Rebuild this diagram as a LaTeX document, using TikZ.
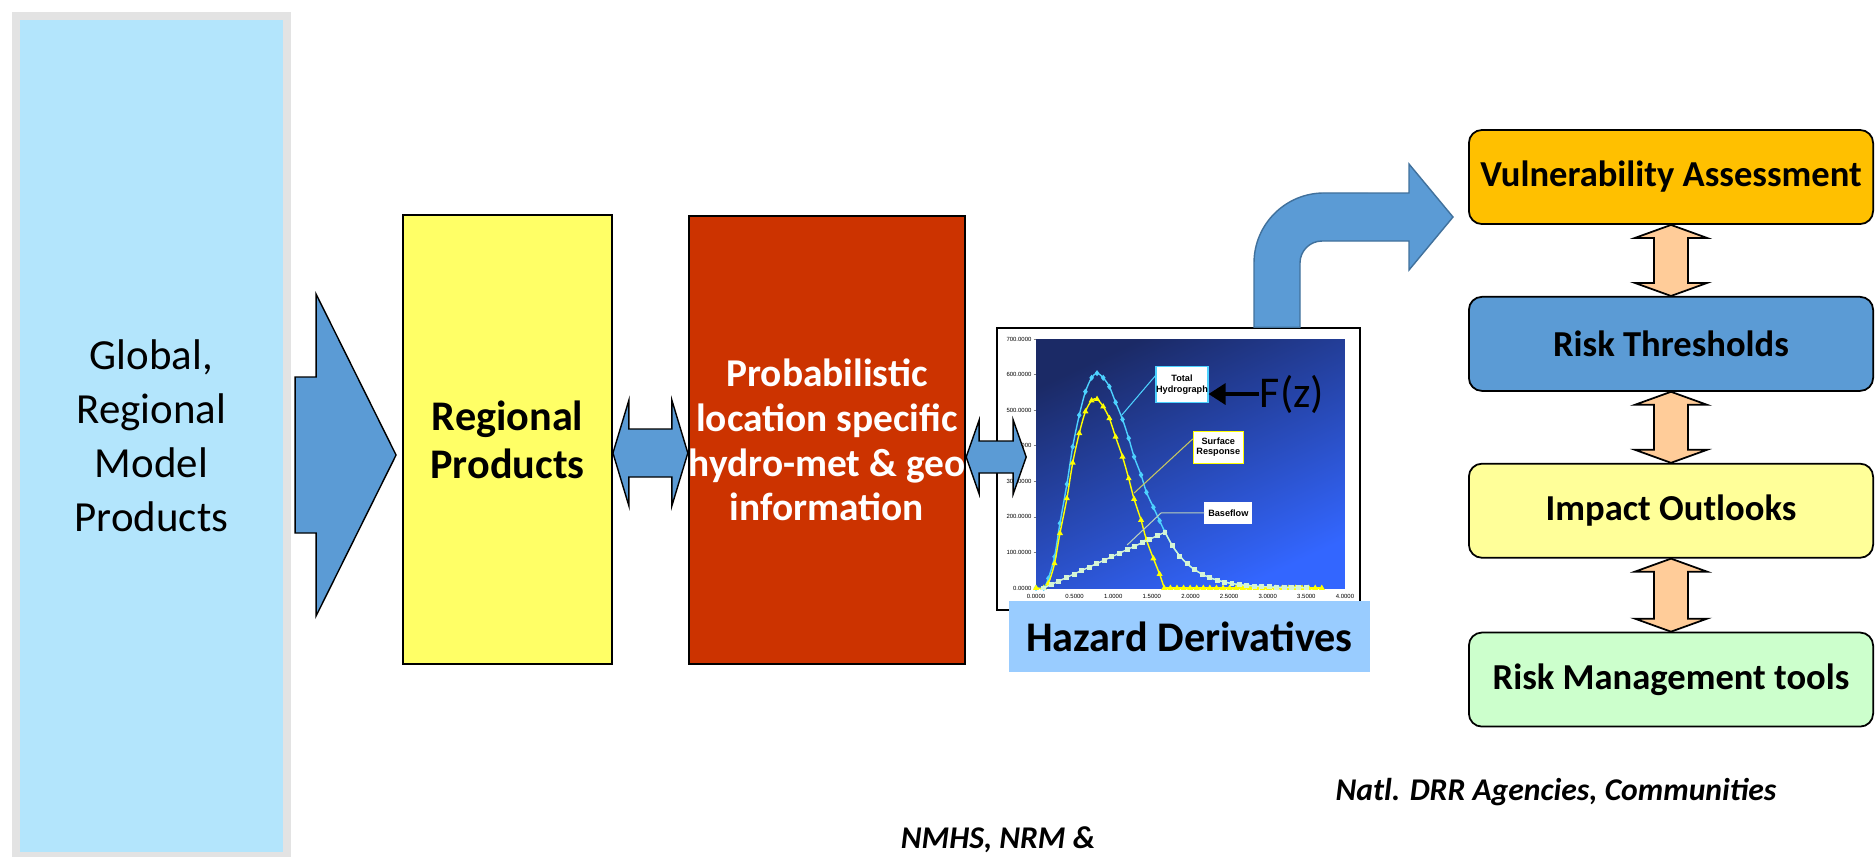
\documentclass[tikz,border=0pt]{standalone}
\usepackage{fontspec}
\setmainfont{Carlito}
\newfontfamily\chartfont{Liberation Sans}
\usetikzlibrary{positioning,calc,arrows.meta,plotmarks}

\definecolor{globblue}{HTML}{B3E5FC}
\definecolor{globgray}{HTML}{E3E3E3}
\definecolor{flowblue}{HTML}{5B9BD5}
\definecolor{flowedge}{HTML}{41719C}
\definecolor{regyellow}{HTML}{FFFF66}
\definecolor{probred}{HTML}{CC3300}
\definecolor{hazblue}{HTML}{99CCFF}
\definecolor{vulnorange}{HTML}{FFC000}
\definecolor{impactyellow}{HTML}{FFFF99}
\definecolor{mgmtgreen}{HTML}{CCFFCC}
\definecolor{pairpeach}{HTML}{FFCC99}
\definecolor{plottop}{HTML}{1B2A66}
\definecolor{plotbot}{HTML}{3366FF}
\definecolor{totalcyan}{HTML}{4DD2FF}
\definecolor{surfyellow}{HTML}{FFFF00}
\definecolor{surfleader}{HTML}{C8C860}
\definecolor{basegreen}{HTML}{D5F5D5}

\begin{document}
\begin{tikzpicture}[x=0.01cm,y=-0.01cm]
    \tikzset{
      bigbox/.style={draw,line width=0.5pt,inner sep=0pt,align=center},
      riskbox/.style={draw,line width=0.5pt,rounded corners=1.3mm,inner sep=0pt,
        minimum width=40.4mm,minimum height=9.4mm,font=\bfseries\fontsize{10.4}{12}\selectfont},
      flowarrow/.style={fill=flowblue,draw=black,line width=0.4pt},
      pairarrow/.style={fill=pairpeach,draw=black,line width=0.5pt},
      notetext/.style={font=\bfseries\itshape\fontsize{9}{11}\selectfont},
      ylab/.style={anchor=east,inner sep=0pt,font=\chartfont\fontsize{1.7}{2}\selectfont},
      xlab/.style={inner sep=0pt,font=\chartfont\fontsize{1.7}{2}\selectfont},
      lblbox/.style={fill=white,line width=0.3pt,inner sep=0pt,align=center,
        font=\chartfont\bfseries\fontsize{2.6}{3}\selectfont},
      curve/.style={line width=0.4pt},
    }
    \tikzset{
      pics/bigarrow/.style args={#1,#2,#3,#4,#5}{code={
        \filldraw[flowarrow] ($(#1)+(0,-#5)$) -- ($(#2)+(-#3,-#5)$) -- ++(0,#5-#4)
          -- (#2) -- ++(-#3,#4) -- ++(0,#5-#4) -- ($(#1)+(0,#5)$) -- cycle;
      },
      }
    }
    \tikzset{
      pics/twoway/.style args={#1,#2,#3,#4,#5}{code={
        \filldraw[flowarrow] (#1) -- ++(#3,-#4) -- ++(0,#4-#5) -- ($(#2)+(-#3,-#5)$)
          -- ++(0,#5-#4) -- (#2) -- ++(-#3,#4) -- ++(0,#5-#4)
          -- ($(#1)+(#3,#5)$) -- ++(0,#4-#5) -- cycle;
      },
      }
    }
    \tikzset{
      pics/updown/.style args={#1,#2,#3,#4,#5}{code={
        \filldraw[pairarrow] (#1) -- ++(#4,#3) -- ++(#5-#4,0) -- ($(#2)+(#5,-#3)$)
          -- ++(#4-#5,0) -- (#2) -- ++(-#4,-#3) -- ++(#4-#5,0)
          -- ($(#1)+(-#5,#3)$) -- ++(#5-#4,0) -- cycle;
      },
      }
    }
    \useasboundingbox (0,0) rectangle (1875,856);

    % model products column
    \node[bigbox,draw=globgray,line width=0.8mm,fill=globblue,minimum width=27.1mm,
      minimum height=84mm,font=\fontsize{12.2}{15.4}\selectfont] (glob) at (151.5,436)
      {Global,\\Regional\\Model\\Products};

    \node[bigbox,fill=regyellow,minimum width=20.9mm,minimum height=44.9mm,
      font=\bfseries\fontsize{12}{13.7}\selectfont] (reg) at (507.5,439.5) {Regional\\Products};
    \node[bigbox,fill=probred,text=white,minimum width=27.2mm,minimum height=44.8mm,
      font=\bfseries\fontsize{11.2}{12.7}\selectfont] (prob) at (827,440)
      {Probabilistic\\location specific\\hydro-met \& geo\\information};

    \coordinate (gr1) at ($(glob.east |- 0,455)+(4,0)$);
    \coordinate (gr2) at ($(reg.west |- 0,455)+(-6,0)$);
    \pic at (0,0) {bigarrow={gr1,gr2,80,161,78}};

    \coordinate (rp1) at (reg.east |- 0,453);
    \coordinate (rp2) at (prob.west |- 0,453);
    \pic at (0,0) {twoway={rp1,rp2,16,53,24}};

    % hydrograph
    \node[draw,line width=0.4pt,fill=white,minimum width=36.3mm,minimum height=28.2mm,
      inner sep=0pt] (chart) at (1178.5,469) {};
    \begin{scope}[shift={(1036,588)},x=0.772cm,y=0.003557cm]
      \shade[top color=plottop,bottom color=plotbot,shading angle=25] (0,0) rectangle (4,700);
      \foreach \v in {0,100,...,700} {
        \draw[line width=0.2pt,gray] (-0.03,\v) -- (0,\v);
        \node[ylab] at (-0.05,\v) {\v.0000};
      }
      \foreach \t/\lab in {0/0.0000,0.5/0.5000,1/1.0000,1.5/1.5000,2/2.0000,
        2.5/2.5000,3/3.0000,3.5/3.5000,4/4.0000}
        \node[xlab] at (\t,-25) {\lab};

      \draw[curve,totalcyan] plot[smooth,mark=diamond*,mark size=0.55pt] coordinates {
        (0,0) (0.1,0) (0.16,27) (0.24,88) (0.31,182) (0.40,292) (0.475,397) (0.56,486)
        (0.64,552) (0.72,591) (0.79,604) (0.87,591) (0.95,566) (1.03,522) (1.12,474)
        (1.20,421) (1.27,369) (1.36,318) (1.43,269) (1.52,227) (1.60,189) (1.67,157)};
      \draw[curve,totalcyan] plot[smooth,domain=1.67:3.7,samples=30] (\x,{157*exp(-2.9*(\x-1.67))});

      \draw[curve,surfyellow] plot[smooth,mark=triangle*,mark size=0.6pt] coordinates {
        (0,0) (0.1,0) (0.16,13) (0.24,69) (0.31,154) (0.40,252) (0.475,352) (0.56,435)
        (0.64,496) (0.72,527) (0.79,531) (0.87,510) (0.95,477) (1.03,425) (1.12,369)
        (1.20,308) (1.27,250) (1.36,191) (1.43,135) (1.52,83) (1.60,39) (1.66,0)};
      \draw[curve,surfyellow] (1.66,0) -- (3.7,0);
      \path[surfyellow] plot[only marks,mark=triangle*,mark size=0.6pt,domain=1.74:3.7,samples=24] (\x,0);

      \draw[curve,basegreen] plot[mark=square*,mark size=0.5pt,domain=0.1:1.67,samples=17] (\x,{100*(\x-0.1)});
      \draw[curve,basegreen] plot[smooth,mark=square*,mark size=0.5pt,domain=1.67:3.5,samples=20] (\x,{157*exp(-2.9*(\x-1.67))});

      \node[lblbox,draw=totalcyan,minimum width=5.2mm,minimum height=3.6mm] (tot) at (1.89,571) {Total\\Hydrograph};
      \node[lblbox,draw=surfyellow,minimum width=5.0mm,minimum height=3.2mm] (surf) at (2.36,396) {Surface\\Response};
      \node[lblbox,draw=white,minimum width=4.7mm,minimum height=2.0mm] (base) at (2.49,211) {Baseflow};

      \coordinate (totpt) at (1.11,486);
      \coordinate (surfpt) at (1.27,267);
      \coordinate (basept) at (1.18,121);
      \draw[totalcyan,line width=0.3pt] ($(tot.north west)!0.25!(tot.south west)$) -- (totpt);
      \draw[surfleader,line width=0.3pt] ($(surf.north west)!0.25!(surf.south west)$) -- (surfpt);
      \draw[basegreen!70!gray,line width=0.3pt] (base.west) -- ++(-0.56,0) -- (basept);
    \end{scope}

    \node[inner sep=0pt,font=\fontsize{12.5}{15}\selectfont] (fz) at (1292,394) {F(z)};
    \draw[line width=0.9pt,-{Triangle[length=1.7mm,width=2.1mm]}] (fz.west) -- (tot.east |- fz.west);

    \node[fill=hazblue,minimum width=36.1mm,minimum height=7.1mm,inner sep=0pt,
      font=\bfseries\fontsize{12}{14}\selectfont] (haz) at (1189.5,636.5) {Hazard Derivatives};

    \coordinate (pc1) at (prob.east |- 0,457);
    \coordinate (pc2) at ($(chart.west |- 0,457)+(30,0)$);
    \pic at (0,0) {twoway={pc1,pc2,13,37,16}};

    % risk column
    \node[riskbox,fill=vulnorange] (vuln) at (1671,177) {Vulnerability Assessment};
    \node[riskbox,fill=flowblue,below=7.1mm of vuln] (riskt) {Risk Thresholds};
    \node[riskbox,fill=impactyellow,below=7.1mm of riskt] (impact) {Impact Outlooks};
    \node[riskbox,fill=mgmtgreen,below=7.3mm of impact] (mgmt) {Risk Management tools};

    \pic at (0,0) {updown={vuln.south,riskt.north,13,36,17}};
    \pic at (0,0) {updown={riskt.south,impact.north,13,36,17}};
    \pic at (0,0) {updown={impact.south,mgmt.north,13,36,17}};

    % bent arrow from the hydrograph
    \coordinate (bs) at (chart.north -| 1277,0);
    \coordinate (bt) at ($(vuln.west |- 0,217)+(-15,0)$);
    \filldraw[flowarrow,draw=flowedge] ($(bs)+(-23,0)$) -- ($(bs |- bt)+(-23,46)$)
      arc[start angle=180,end angle=90,radius=7mm]
      -- ($(bt)+(-44,-24)$) -- ++(0,-29) -- (bt) -- ++(-44,53) -- ++(0,-29)
      -- ($(bs |- bt)+(45,24)$)
      arc[start angle=90,end angle=180,radius=2.2mm]
      -- ($(bs)+(23,0)$) -- cycle;

    \node[notetext] (drr) at (1556,792) {Natl. DRR Agencies, Communities};
    \node[notetext] (nmhs) at (998,840) {NMHS, NRM \&};
\end{tikzpicture}
\end{document}
